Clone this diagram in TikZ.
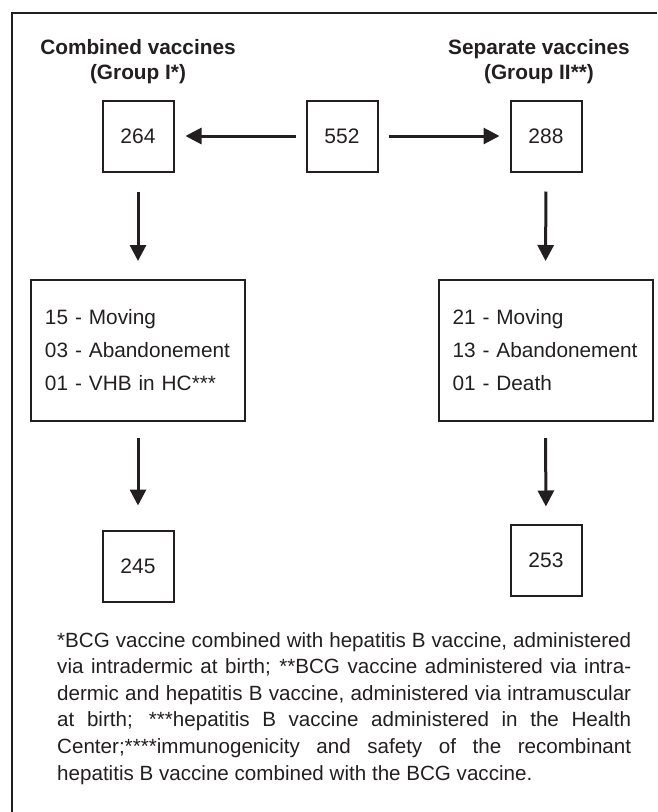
\documentclass[tikz,border=0pt]{standalone}
\usepackage{fontspec}
\setmainfont{Liberation Sans}
\usetikzlibrary{arrows.meta}
\definecolor{inkgray}{HTML}{231F20}

\begin{document}
\begin{tikzpicture}[x=1pt, y=-1pt, color=inkgray,
    numbox/.style={draw=inkgray, line width=2pt, minimum width=71pt, minimum height=71pt, inner sep=0pt, font=\fontsize{21}{25}\selectfont},
    listbox/.style={draw=inkgray, line width=2pt, minimum height=141pt, inner xsep=14pt, text width=186pt, align=left, font=\fontsize{20.8}{33}\selectfont},
    grouphead/.style={align=center, font=\fontsize{20.8}{25}\selectfont\bfseries},
    flow/.style={line width=3pt, -{Triangle[length=16pt, width=16pt]}}]
    \useasboundingbox (0,0) rectangle (657,812);

    % Frame (only top and left edges show)
    \draw[line width=1.5pt] (12,812) -- (12,13) -- (657,13);

    % Group headings
    \node[grouphead] (headI) at (138,62) {Combined vaccines\\(Group I*)};
    \node[grouphead] (headII) at (539,62) {Separate vaccines\\(Group II**)};

    % Randomised
    \node[numbox] (n552) at (342,136) {552};
    \node[numbox] (n264) at (138,136) {264};
    \node[numbox] (n288) at (546,136) {288};
    \draw[flow, shorten <=10pt, shorten >=11pt] (n552.west) -- (n264.east);
    \draw[flow, shorten <=10pt, shorten >=10pt] (n552.east) -- (n288.west);

    % Losses
    \node[listbox] (lossI) at (138,350.5) {15 - Moving\\03 - Abandonement\\01 - VHB in HC***};
    \node[listbox] (lossII) at (545.5,350.5) {21 - Moving\\13 - Abandonement\\01 - Death};
    \draw[flow, shorten <=19pt, shorten >=18pt] (n264.south) -- (lossI.north);
    \draw[flow, shorten <=19pt, shorten >=18pt] (n288.south) -- (lossII.north);

    % Analysed
    \node[numbox] (n245) at (138,566) {245};
    \node[numbox] (n253) at (546,560) {253};
    \draw[flow, shorten <=16pt, shorten >=24pt] (lossI.south) -- (n245.north);
    \draw[flow, shorten <=16pt, shorten >=17pt] (lossII.south) -- (n253.north);

    % Footnote
    \node[anchor=north west, inner sep=0pt, text width=574pt, align=justify,
          font=\fontsize{20.6}{26.6}\selectfont] (notes) at (57,632)
        {*BCG vaccine combined with hepatitis B vaccine, administered\linebreak
         via intradermic at birth; **BCG vaccine administered via intra-\linebreak
         dermic and hepatitis B vaccine, administered via intramuscular\linebreak
         at birth; ***hepatitis B vaccine administered in the Health\linebreak
         Center;****immunogenicity and safety of the recombinant\linebreak
         hepatitis B vaccine combined with the BCG vaccine.};
\end{tikzpicture}
\end{document}
